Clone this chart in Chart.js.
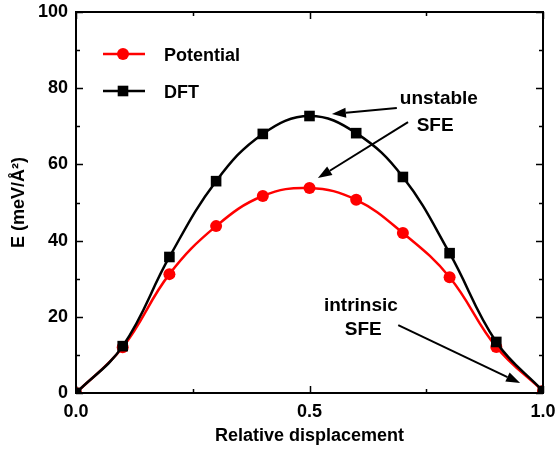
<!DOCTYPE html>
<html>
<head>
<meta charset="utf-8">
<script src="https://cdn.jsdelivr.net/npm/chart.js@4.4.0/dist/chart.umd.min.js"></script>
<style>
html,body{margin:0;padding:0;background:#fff;}
#wrap{width:559px;height:457px;position:relative;}
</style>
</head>
<body>
<div id="wrap"><canvas id="c" width="559" height="457"></canvas></div>
<script>
// ---- data ----
const displacement = [0.0, 0.1, 0.2, 0.3, 0.4, 0.5, 0.6, 0.7, 0.8, 0.9, 1.0];
const potentialE = [0.0, 12.0, 31.2, 43.8, 51.7, 53.8, 50.7, 42.0, 30.4, 12.1, 0.5];
const dftE       = [0.0, 12.3, 35.7, 55.6, 68.0, 72.7, 68.2, 56.7, 36.7, 13.4, 0.5];
const xTickValues = [0.0, 0.5, 1.0];
const yTickValues = [0, 20, 40, 60, 80, 100];
const seriesNames = ['Potential', 'DFT'];
const annotationTexts = [
  {text: 'unstable', x: 0.777, y: 75.9},
  {text: 'SFE', x: 0.769, y: 68.8},
  {text: 'intrinsic', x: 0.610, y: 21.5},
  {text: 'SFE', x: 0.615, y: 15.2}
];
const annotationArrows = [
  {from: [0.687, 74.8], to: [0.548, 73.2]},
  {from: [0.711, 71.1], to: [0.518, 56.4]},
  {from: [0.690, 17.8], to: [0.951, 2.6]}
];

const FONT = '"Liberation Sans", Arial, sans-serif';

const toXY = (xs, ys) => xs.map((x, i) => ({x: x, y: ys[i]}));

const framePlugin = {
  id: 'frame',
  afterDraw(chart) {
    const ctx = chart.ctx;
    const a = chart.chartArea;
    const xs = chart.scales.x, ys = chart.scales.y;
    ctx.save();
    ctx.strokeStyle = '#000';
    ctx.lineWidth = 2;
    ctx.strokeRect(a.left, a.top, a.right - a.left, a.bottom - a.top);
    ctx.lineWidth = 1.5;
    const xMaj = xTickValues;
    const xMin = [];
    for (let i = 0; i < xMaj.length - 1; i++) xMin.push((xMaj[i] + xMaj[i + 1]) / 2);
    const drawX = (v, len) => {
      const p = Math.round(xs.getPixelForValue(v)) + 0.5;
      ctx.beginPath();
      ctx.moveTo(p, a.bottom); ctx.lineTo(p, a.bottom - len);
      ctx.moveTo(p, a.top); ctx.lineTo(p, a.top + len);
      ctx.stroke();
    };
    xMaj.forEach(v => drawX(v, 7));
    xMin.forEach(v => drawX(v, 4));
    const yMaj = yTickValues;
    const yMin = [];
    for (let i = 0; i < yMaj.length - 1; i++) yMin.push((yMaj[i] + yMaj[i + 1]) / 2);
    const drawY = (v, len) => {
      const p = Math.round(ys.getPixelForValue(v)) + 0.5;
      ctx.beginPath();
      ctx.moveTo(a.left, p); ctx.lineTo(a.left + len, p);
      ctx.moveTo(a.right, p); ctx.lineTo(a.right - len, p);
      ctx.stroke();
    };
    yMaj.forEach(v => drawY(v, 7));
    yMin.forEach(v => drawY(v, 4));

    // legend
    const ds = chart.data.datasets;
    const legendOrder = [1, 0];
    const lx0 = a.left + 27, lx1 = a.left + 69, mx = a.left + 47, tx = a.left + 88;
    const lys = [a.top + 42, a.top + 79];
    legendOrder.forEach((di, k) => {
      const d = ds[di];
      const y = lys[k];
      ctx.strokeStyle = d.borderColor;
      ctx.lineWidth = 2.5;
      ctx.beginPath(); ctx.moveTo(lx0, y); ctx.lineTo(lx1, y); ctx.stroke();
      ctx.fillStyle = d.pointBackgroundColor;
      ctx.beginPath();
      if (d.pointStyle === 'circle') {
        ctx.arc(mx, y, d.pointRadius, 0, Math.PI * 2);
      } else {
        const s = d.pointRadius * Math.SQRT1_2;
        ctx.rect(mx - s, y - s, 2 * s, 2 * s);
      }
      ctx.fill();
      ctx.fillStyle = '#000';
      ctx.font = 'bold 18px ' + FONT;
      ctx.textAlign = 'left';
      ctx.textBaseline = 'middle';
      ctx.fillText(d.label, tx, y + 2);
    });

    // annotations
    ctx.fillStyle = '#000';
    ctx.font = 'bold 19px ' + FONT;
    ctx.textAlign = 'center';
    ctx.textBaseline = 'alphabetic';
    annotationTexts.forEach(t => {
      ctx.fillText(t.text, xs.getPixelForValue(t.x), ys.getPixelForValue(t.y));
    });
    ctx.strokeStyle = '#000';
    ctx.lineWidth = 2;
    annotationArrows.forEach(ar => {
      const x0 = xs.getPixelForValue(ar.from[0]), y0 = ys.getPixelForValue(ar.from[1]);
      const x1 = xs.getPixelForValue(ar.to[0]), y1 = ys.getPixelForValue(ar.to[1]);
      const ang = Math.atan2(y1 - y0, x1 - x0);
      const hl = 14, hw = 5;
      const bx = x1 - hl * Math.cos(ang), by = y1 - hl * Math.sin(ang);
      ctx.beginPath(); ctx.moveTo(x0, y0); ctx.lineTo(bx, by); ctx.stroke();
      ctx.beginPath();
      ctx.moveTo(x1, y1);
      ctx.lineTo(bx + hw * Math.sin(ang), by - hw * Math.cos(ang));
      ctx.lineTo(bx - hw * Math.sin(ang), by + hw * Math.cos(ang));
      ctx.closePath();
      ctx.fill();
    });
    ctx.restore();
  }
};

new Chart(document.getElementById('c'), {
  type: 'line',
  data: {
    datasets: [
      {
        label: seriesNames[1],
        data: toXY(displacement, dftE),
        borderColor: '#000000',
        backgroundColor: '#000000',
        pointBackgroundColor: '#000000',
        pointBorderColor: '#000000',
        pointStyle: 'rect',
        pointRadius: 7.5,
        pointBorderWidth: 0,
        borderWidth: 2.5,
        tension: 0.4,
        fill: false
      },
      {
        label: seriesNames[0],
        data: toXY(displacement, potentialE),
        borderColor: '#ff0000',
        backgroundColor: '#ff0000',
        pointBackgroundColor: '#ff0000',
        pointBorderColor: '#ff0000',
        pointStyle: 'circle',
        pointRadius: 6,
        pointBorderWidth: 0,
        borderWidth: 2.5,
        tension: 0.4,
        fill: false
      }
    ]
  },
  options: {
    responsive: false,
    animation: false,
    events: [],
    layout: {padding: {top: 12, right: 16, left: 0, bottom: 0}},
    plugins: {legend: {display: false}, tooltip: {enabled: false}},
    scales: {
      x: {
        type: 'linear', min: 0, max: 1,
        afterBuildTicks: s => { s.ticks = xTickValues.map(v => ({value: v})); },
        afterFit: s => { s.height = 64; s.paddingLeft = 0; s.paddingRight = 0; },
        grid: {display: false, drawTicks: false},
        border: {display: false},
        ticks: {
          padding: 8, color: '#000',
          font: {family: FONT, size: 18, weight: 'bold'},
          callback: v => Number(v).toFixed(1),
          maxRotation: 0
        },
        title: {
          display: true, text: 'Relative displacement', color: '#000',
          font: {family: FONT, size: 18, weight: 'bold'},
          padding: {top: 0, bottom: 10}
        }
      },
      y: {
        type: 'linear', min: 0, max: 100,
        afterBuildTicks: s => { s.ticks = yTickValues.map(v => ({value: v})); },
        afterFit: s => { s.width = 76; s.paddingTop = 0; s.paddingBottom = 0; },
        grid: {display: false, drawTicks: false},
        border: {display: false},
        ticks: {
          padding: 8, color: '#000',
          font: {family: FONT, size: 18, weight: 'bold'}
        },
        title: {
          display: true, text: 'E (meV/Å²)', color: '#000',
          font: {family: FONT, size: 18, weight: 'bold'},
          padding: {top: 8, bottom: 0}
        }
      }
    }
  },
  plugins: [framePlugin]
});
</script>
</body>
</html>
